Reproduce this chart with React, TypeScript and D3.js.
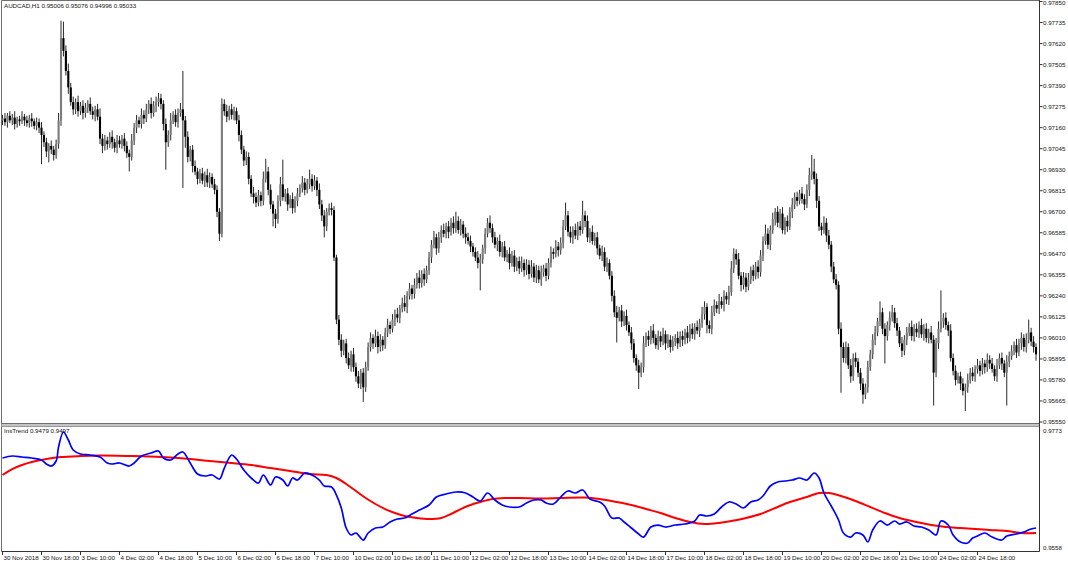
import * as d3 from 'd3';

const W = 1068;
const H = 565;

// all price data below is in points (0.00001) above BASE
const BASE = 0.95;

const FIRST_OPEN = 2200;

// AUDCAD H1 closes, bar 0 = 30 Nov 02:00
const closePts = [
  2210, 2190, 2225, 2200, 2215, 2180, 2205, 2195, 2220, 2200, 2185, 2210, 2195, 2170, 2190, 2160,
  2120, 2080, 2030, 2060, 2040, 2010, 2070, 2200,
  2650, 2580, 2470, 2380, 2300,
  2260, 2300, 2250, 2280, 2240, 2270, 2290, 2250, 2230, 2260, 2220,
  2100, 2060,
  2090, 2070, 2110, 2080, 2050, 2090, 2070, 2100, 2060, 2020, 2000,
  2090, 2160, 2200,
  2180, 2230, 2210, 2260, 2290, 2240, 2280, 2300, 2320, 2290,
  2180, 2080, 2120,
  2200, 2230, 2190, 2240, 2260,
  2200,
  2110, 2000, 2040, 1950,
  1920, 1880, 1910, 1870, 1900, 1860, 1890, 1850,
  1820, 1700, 1580,
  2290,
  2250, 2220, 2260, 2230, 2250, 2200,
  2120, 2040, 1980, 2000,
  1880, 1800, 1780, 1750, 1790, 1760,
  1880, 1920,
  1820, 1740, 1690, 1660,
  1760, 1850, 1780,
  1800, 1740, 1770, 1720, 1760,
  1800, 1830, 1860, 1820, 1850, 1880, 1840, 1870, 1820,
  1740, 1680, 1620, 1700, 1720, 1710,
  1450, 1110,
  1000, 940, 980,
  900, 860, 920, 850, 800, 760, 820, 740,
  850, 960, 1010,
  980, 1020, 960, 1000, 970,
  1040, 1080, 1060, 1110, 1140, 1120, 1170,
  1200, 1180, 1240, 1280, 1250, 1300, 1340, 1310, 1360, 1330, 1380,
  1450, 1520, 1560, 1500,
  1560, 1600, 1580, 1620, 1590, 1640, 1610, 1650, 1600, 1630, 1580, 1560, 1540, 1510,
  1480, 1450, 1420, 1440, 1500,
  1580, 1640, 1610,
  1560, 1520, 1540, 1480, 1510, 1450, 1470, 1420, 1460, 1400, 1430, 1390, 1420, 1380, 1410,
  1360, 1400, 1340, 1380, 1330, 1370, 1390, 1350,
  1420, 1480, 1470, 1510, 1490, 1530,
  1620, 1680, 1590, 1560, 1600, 1570, 1620, 1600, 1680, 1650,
  1560, 1590, 1540, 1560, 1500, 1460, 1480, 1400, 1420, 1350,
  1240, 1150,
  1120, 1160, 1100, 1130, 1080,
  1040, 980, 900, 860, 820, 850,
  980, 1020, 1000, 1050, 1010, 970, 1020, 990, 1030, 980, 1000, 960, 990,
  1010, 980, 1020, 1000, 1040, 1010, 1060, 1030, 1070, 1050, 1090,
  1140, 1180, 1080, 1060, 1150, 1190, 1170, 1210, 1190, 1240, 1220, 1260,
  1390, 1470, 1440,
  1350, 1300, 1340, 1290, 1330,
  1380, 1350, 1400, 1370, 1460, 1540, 1580, 1520,
  1600, 1660, 1700, 1640, 1690, 1600, 1650, 1620,
  1700, 1740, 1780, 1760, 1800, 1770, 1740,
  1820, 1900, 1920, 1880,
  1760, 1620, 1600,
  1640, 1570, 1520,
  1400, 1330, 1300, 1060,
  960, 900, 960, 860, 800, 900, 880, 820,
  760, 700, 740,
  850, 920, 1000, 1040,
  1100, 1150, 1060, 1020, 1080, 1120, 1150, 1090, 1050,
  980, 940, 1000,
  1040, 1070, 1020, 1060, 1040, 1080, 1030, 1060, 1010, 1040, 1000,
  820,
  980, 1060, 1100, 1120, 1080, 1050,
  900, 830, 780,
  800, 760, 720, 740, 780,
  820, 800, 840, 860, 830, 870, 850, 890, 870,
  840, 800, 860, 900, 870, 820, 880, 910,
  940, 970, 930, 980, 1010, 960, 1000, 1040, 990, 960, 920,
];

// wick above max(open, close), in points
const upWick = [
  20, 30, 15, 25, 20, 35, 15, 20, 30, 15, 25, 20, 30, 15, 25, 20, 30, 20, 25, 15, 30, 20, 25, 40, 95,
  90, 30, 40, 25, 30, 20, 35, 20, 30, 25, 20, 35, 25, 20, 30, 45, 25, 30, 20, 25, 35, 20, 30, 25, 20,
  30, 25, 20, 35, 25, 30, 20, 35, 25, 30, 20, 35, 25, 30, 30, 25, 20, 30, 25, 40, 20, 30, 25, 35, 210,
  25, 30, 20, 25, 30, 20, 25, 30, 20, 35, 25, 20, 30, 25, 20, 30, 25, 35, 20, 30, 25, 20, 30, 25, 20,
  30, 25, 20, 35, 25, 30, 20, 40, 70, 25, 30, 20, 25, 30, 40, 135, 25, 30, 20, 35, 25, 30, 20, 35, 25,
  30, 50, 25, 30, 20, 35, 25, 30, 20, 25, 30, 20, 15, 25, 30, 20, 25, 30, 20, 35, 25, 30, 20, 25, 30,
  25, 30, 20, 35, 25, 30, 20, 25, 35, 20, 30, 25, 35, 20, 30, 45, 25, 30, 20, 35, 25, 40, 20, 30, 25,
  30, 25, 35, 20, 30, 25, 35, 20, 30, 25, 35, 50, 25, 30, 20, 35, 25, 30, 20, 25, 35, 30, 20, 30, 25,
  40, 25, 30, 20, 35, 25, 30, 20, 35, 25, 30, 20, 25, 35, 20, 30, 25, 35, 20, 30, 25, 35, 20, 30, 25,
  30, 20, 35, 25, 30, 35, 70, 25, 30, 20, 35, 25, 30, 80, 25, 30, 20, 35, 25, 30, 20, 35, 25, 30, 20,
  25, 30, 35, 20, 30, 25, 35, 20, 30, 25, 20, 30, 25, 40, 20, 30, 25, 35, 20, 30, 25, 35, 20, 30, 25,
  30, 20, 35, 25, 30, 20, 35, 25, 30, 20, 35, 25, 40, 30, 20, 25, 35, 30, 20, 40, 25, 30, 20, 35, 40,
  30, 25, 35, 20, 30, 25, 35, 20, 30, 25, 35, 30, 25, 50, 30, 25, 35, 20, 30, 25, 35, 20, 30, 25, 35,
  25, 30, 20, 35, 25, 30, 40, 90, 70, 30, 25, 20, 35, 25, 30, 20, 25, 30, 20, 35, 25, 30, 20, 35, 25,
  30, 20, 25, 30, 20, 35, 25, 30, 35, 20, 60, 25, 30, 20, 35, 40, 25, 30, 20, 35, 25, 30, 20, 35, 25,
  30, 20, 35, 25, 30, 20, 35, 25, 30, 40, 170, 25, 30, 20, 35, 25, 30, 20, 25, 30, 20, 35, 25, 30, 20,
  35, 25, 30, 20, 35, 25, 30, 20, 35, 25, 30, 20, 35, 25, 30, 20, 35, 25, 30, 20, 35, 70, 25, 30, 20,
];

// wick below min(open, close), in points
const dnWick = [
  25, 20, 30, 15, 25, 30, 20, 25, 15, 30, 20, 25, 30, 20, 25, 30, 160, 25, 30, 60, 25, 30, 20, 25, 30,
  30, 25, 35, 20, 30, 25, 30, 20, 35, 25, 30, 20, 25, 35, 20, 30, 40, 25, 30, 20, 35, 25, 30, 20, 25,
  30, 25, 80, 20, 25, 30, 20, 25, 30, 20, 25, 30, 20, 35, 25, 30, 35, 150, 25, 30, 20, 25, 30, 20, 370,
  60, 30, 25, 35, 20, 30, 25, 20, 35, 25, 30, 20, 25, 30, 40, 20, 25, 30, 20, 25, 30, 20, 35, 25, 30,
  25, 30, 20, 35, 25, 20, 30, 25, 20, 30, 25, 70, 50, 25, 30, 20, 25, 35, 20, 30, 25, 30, 20, 25, 30,
  20, 25, 30, 20, 35, 25, 30, 60, 25, 20, 30, 20, 25, 30, 35, 25, 30, 20, 35, 25, 30, 25, 30, 80, 25,
  20, 25, 30, 20, 35, 25, 30, 20, 25, 30, 20, 35, 25, 30, 20, 25, 35, 20, 30, 25, 20, 30, 25, 35, 20,
  25, 30, 20, 35, 25, 30, 20, 25, 35, 20, 30, 25, 20, 30, 25, 35, 20, 30, 25, 20, 30, 150, 25, 30, 20,
  25, 30, 20, 35, 25, 30, 20, 25, 35, 20, 30, 25, 30, 20, 35, 25, 30, 20, 25, 30, 20, 35, 25, 30, 20,
  25, 30, 20, 35, 25, 30, 20, 25, 30, 35, 20, 25, 30, 20, 35, 25, 30, 20, 25, 35, 20, 30, 25, 30, 20,
  30, 25, 135, 20, 30, 25, 30, 20, 35, 25, 30, 90, 25, 30, 20, 35, 25, 30, 20, 25, 30, 20, 35, 25, 30,
  20, 25, 30, 20, 35, 25, 30, 20, 25, 30, 20, 35, 25, 30, 45, 25, 30, 20, 25, 30, 20, 35, 25, 30, 20,
  25, 30, 20, 35, 25, 30, 20, 25, 30, 20, 35, 25, 30, 20, 25, 30, 20, 35, 25, 30, 20, 25, 30, 20, 35,
  25, 30, 20, 25, 30, 20, 35, 25, 30, 40, 25, 30, 20, 35, 25, 30, 20, 25, 30, 250, 25, 30, 20, 35, 25,
  30, 25, 35, 50, 25, 30, 20, 25, 30, 20, 25, 30, 150, 25, 30, 20, 25, 30, 20, 35, 25, 30, 20, 25, 30,
  25, 30, 20, 35, 25, 30, 20, 180, 25, 30, 20, 35, 25, 30, 20, 25, 30, 20, 35, 25, 110, 30, 20, 25, 30,
  25, 30, 20, 35, 25, 30, 20, 25, 30, 20, 35, 25, 180, 30, 20, 25, 30, 20, 35, 25, 30, 20, 25, 30, 35,
];

// InsTrend lines: [bar, points]
const trendBlue: [number, number][] = [
  [0, 2206], [4, 2242], [8, 2224], [12, 2206], [16, 2170], [18, 2098], [20, 2061], [22, 2152], [23, 2405],
  [25, 2676], [27, 2531], [29, 2351], [32, 2278], [36, 2260], [40, 2224], [43, 2116], [45, 2098], [48, 2116],
  [52, 2061], [54, 2116], [57, 2242], [61, 2296], [64, 2332], [66, 2206], [69, 2170], [72, 2278], [74, 2314],
  [77, 2116], [80, 1917], [83, 1881], [86, 1899], [89, 1826], [91, 2025], [94, 2260], [96, 2188], [99, 1989],
  [102, 1845], [105, 1754], [107, 1899], [110, 1718], [112, 1863], [115, 1808], [117, 1700], [119, 1845],
  [121, 1808], [124, 1935], [127, 1899], [130, 1808], [132, 1700], [135, 1682], [137, 1537], [139, 1303],
  [141, 941], [143, 815], [145, 851], [148, 724], [150, 851], [153, 941], [156, 959], [159, 1050], [162, 1104],
  [165, 1122], [168, 1194], [171, 1266], [175, 1357], [178, 1501], [182, 1555], [186, 1592], [190, 1574],
  [193, 1501], [196, 1429], [199, 1574], [202, 1447], [205, 1357], [208, 1321], [212, 1321], [215, 1393],
  [218, 1447], [221, 1447], [223, 1393], [226, 1375], [229, 1501], [232, 1610], [235, 1574], [238, 1628],
  [241, 1465], [245, 1411], [247, 1339], [250, 1122], [253, 1122], [255, 1050], [258, 941], [261, 833],
  [263, 778], [266, 959], [269, 995], [272, 959], [276, 995], [280, 1013], [284, 1068], [286, 1176],
  [289, 1158], [292, 1194], [295, 1321], [298, 1411], [301, 1375], [304, 1303], [307, 1411], [310, 1447],
  [312, 1519], [315, 1700], [318, 1772], [321, 1790], [324, 1808], [327, 1845], [330, 1808], [333, 1935],
  [335, 1845], [337, 1574], [340, 1339], [343, 1086], [345, 851], [348, 778], [350, 851], [353, 815],
  [355, 688], [357, 905], [360, 1068], [363, 995], [366, 1068], [368, 1013], [371, 1050], [374, 977],
  [377, 959], [380, 905], [383, 815], [385, 1068], [388, 995], [390, 815], [393, 688], [396, 670], [398, 760],
  [400, 796], [403, 851], [406, 778], [410, 724], [412, 796], [416, 833], [419, 869], [422, 923], [424, 941],
];

const trendRed: [number, number][] = [
  [0, 1899], [4, 2007], [8, 2080], [12, 2134], [18, 2188], [24, 2224], [32, 2242], [40, 2251], [52, 2242],
  [65, 2224], [77, 2188], [85, 2152], [94, 2116], [102, 2080], [110, 2025], [118, 1971], [126, 1917],
  [133, 1899], [137, 1845], [141, 1736], [145, 1610], [149, 1483], [153, 1375], [157, 1284], [161, 1212],
  [165, 1158], [170, 1122], [175, 1104], [180, 1122], [184, 1194], [188, 1284], [192, 1357], [196, 1411],
  [201, 1465], [206, 1483], [212, 1483], [221, 1474], [229, 1483], [239, 1492], [245, 1465], [252, 1411],
  [258, 1357], [264, 1284], [270, 1212], [276, 1122], [282, 1050], [288, 1013], [294, 1032], [299, 1068],
  [305, 1122], [311, 1194], [317, 1303], [323, 1411], [330, 1501], [335, 1574], [339, 1574], [344, 1519],
  [350, 1429], [356, 1321], [362, 1212], [368, 1122], [375, 1050], [381, 995], [387, 959], [393, 941],
  [399, 923], [405, 905], [412, 887], [418, 851], [424, 851],
];

const priceTicks = [
  '0.97850', '0.97735', '0.97620', '0.97505', '0.97390', '0.97275', '0.97160', '0.97045', '0.96930',
  '0.96815', '0.96700', '0.96585', '0.96470', '0.96355', '0.96240', '0.96125', '0.96010', '0.95895',
  '0.95780', '0.95665', '0.95550',
];
const subTicks = ['0.9773', '0.9558'];

const TIME_STEP = 16; // bars between time labels
const timeLabels = [
  '30 Nov 2018', '30 Nov 18:00', '3 Dec 10:00', '4 Dec 02:00', '4 Dec 18:00', '5 Dec 10:00', '6 Dec 02:00',
  '6 Dec 18:00', '7 Dec 10:00', '10 Dec 02:00', '10 Dec 18:00', '11 Dec 10:00', '12 Dec 02:00',
  '12 Dec 18:00', '13 Dec 10:00', '14 Dec 02:00', '14 Dec 18:00', '17 Dec 10:00', '18 Dec 02:00',
  '18 Dec 18:00', '19 Dec 10:00', '20 Dec 02:00', '20 Dec 18:00', '21 Dec 10:00', '24 Dec 02:00',
  '24 Dec 18:00',
];

const TITLE = 'AUDCAD,H1  0.95006 0.95076 0.94996 0.95033';
const SUB_TITLE = 'InsTrend 0.9479 0.9497';

const FONT = "'Liberation Sans', Arial, sans-serif";
const FS = 6.2;

const FRAME = { left: 1.5, right: 1039.5, top: 0.5, mainBottom: 423.5, subTop: 426.5, bottom: 551.5 };

const px = (p: number) => BASE + p / 1e5;

export default function App() {
  const x = d3.scaleLinear().domain([0, 400]).range([2.5, 977.5]);
  const yMain = d3.scaleLinear().domain([0.9555, 0.9785]).range([422, 1.5]);
  const ySub = d3.scaleLinear().domain([0.9558, 0.9773]).range([548, 429]);

  const bars = closePts.map((c, i) => {
    const o = i === 0 ? FIRST_OPEN : closePts[i - 1];
    return {
      i,
      open: px(o),
      close: px(c),
      high: px(Math.max(o, c) + upWick[i]),
      low: px(Math.min(o, c) - dnWick[i]),
    };
  });

  const line = d3
    .line<[number, number]>()
    .x((d) => x(d[0]))
    .y((d) => ySub(px(d[1])))
    .curve(d3.curveCatmullRom.alpha(0.5));

  const bodyW = 2.1;

  return (
    <>
      <style>{'body{margin:0;background:#fff}'}</style>
      <svg width={W} height={H} style={{ display: 'block', fontFamily: FONT }}>
        <defs>
          <clipPath id="mainClip">
            <rect x={FRAME.left} y={FRAME.top} width={FRAME.right - FRAME.left} height={FRAME.mainBottom - FRAME.top} />
          </clipPath>
          <clipPath id="subClip">
            <rect x={FRAME.left} y={FRAME.subTop} width={FRAME.right - FRAME.left} height={FRAME.bottom - FRAME.subTop} />
          </clipPath>
        </defs>
        <rect x={0} y={0} width={W} height={H} fill="#fff" />

        {/* candles */}
        <g clipPath="url(#mainClip)">
          {bars.map((b) => {
            const cx = x(b.i);
            const bull = b.close >= b.open;
            const yTop = yMain(Math.max(b.open, b.close));
            const yBot = yMain(Math.min(b.open, b.close));
            return (
              <g key={b.i}>
                <line x1={cx} x2={cx} y1={yMain(b.high)} y2={yMain(b.low)} stroke="#2a2a2a" strokeWidth={1} />
                <rect
                  x={cx - bodyW / 2}
                  y={yTop}
                  width={bodyW}
                  height={Math.max(0.8, yBot - yTop)}
                  fill={bull ? '#7c7c7c' : '#000'}
                />
              </g>
            );
          })}
        </g>

        {/* indicator */}
        <g clipPath="url(#subClip)" fill="none">
          <path d={line(trendRed) ?? ''} stroke="#ff0000" strokeWidth={2} />
          <path d={line(trendBlue) ?? ''} stroke="#0000ff" strokeWidth={1.7} />
        </g>

        {/* frame */}
        <g stroke="#707070" strokeWidth={1} fill="none">
          <line x1={FRAME.left} x2={FRAME.right} y1={FRAME.top} y2={FRAME.top} />
          <line x1={FRAME.left} x2={FRAME.left} y1={FRAME.top} y2={FRAME.bottom} />
          <line x1={FRAME.left} x2={FRAME.right} y1={FRAME.mainBottom} y2={FRAME.mainBottom} />
          <line x1={FRAME.left} x2={FRAME.right} y1={FRAME.subTop} y2={FRAME.subTop} />
        </g>
        <rect x={FRAME.left} y={FRAME.mainBottom + 0.5} width={FRAME.right - FRAME.left} height={2.5} fill="#c4c4c4" />
        <g stroke="#333" strokeWidth={1}>
          <line x1={FRAME.right} x2={FRAME.right} y1={0} y2={FRAME.bottom} />
          <line x1={FRAME.left} x2={FRAME.right} y1={FRAME.bottom} y2={FRAME.bottom} />
        </g>

        {/* price axis */}
        {priceTicks.map((t) => {
          const yy = yMain(+t);
          return (
            <g key={t}>
              <line x1={FRAME.right} x2={FRAME.right + 3} y1={yy} y2={yy} stroke="#333" />
              <text x={1043} y={Math.max(yy, 3) + 2.2} fontSize={FS} fill="#111">
                {t}
              </text>
            </g>
          );
        })}
        {subTicks.map((t, k) => {
          const yy = ySub(+t);
          return (
            <text key={t} x={1043} y={(k === 0 ? yy + 1.8 : yy - 0.3) + 2.2} fontSize={FS} fill="#111">
              {t}
            </text>
          );
        })}

        {/* time axis */}
        {timeLabels.map((t, k) => {
          const xx = Math.round(x(k * TIME_STEP)) - 0.5;
          return (
            <g key={t}>
              <line x1={xx} x2={xx} y1={FRAME.bottom} y2={FRAME.bottom + 3.5} stroke="#333" />
              <text x={xx + 1} y={560} fontSize={FS} fill="#111">
                {t}
              </text>
            </g>
          );
        })}

        <text x={4} y={8.2} fontSize={FS} fill="#111">
          {TITLE}
        </text>
        <text x={4} y={432.7} fontSize={FS} fill="#111">
          {SUB_TITLE}
        </text>
      </svg>
    </>
  );
}
